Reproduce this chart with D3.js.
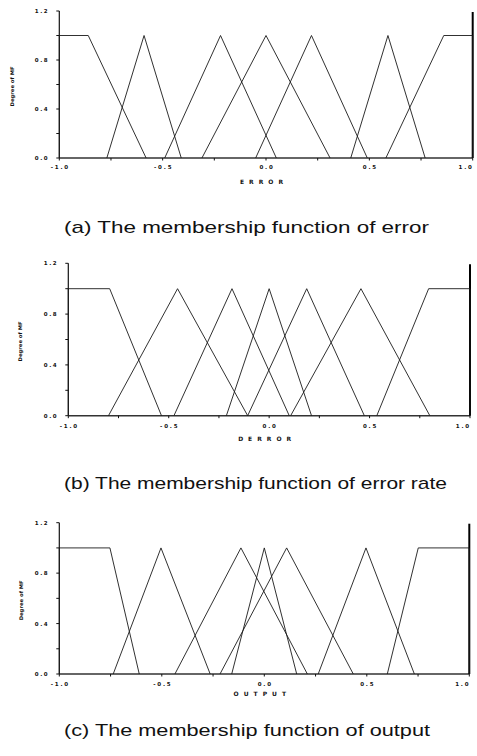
<!DOCTYPE html>
<html>
<head>
<meta charset="utf-8">
<script src="https://cdn.jsdelivr.net/npm/d3@7"></script>
<style>
  html, body { margin: 0; padding: 0; background: #fff; }
  svg { display: block; }
</style>
</head>
<body>
<svg id="fig" width="477" height="756"></svg>
<script>
// Linguistic terms shared by all three variables
const terms = ["NB", "NM", "NS", "ZE", "PS", "PM", "PB"];

// Breakpoints of each membership function: trapezoids [a,b,c,d], triangles [a,b,c]
const errorMF = [
  [-1, -1, -0.86, -0.58],
  [-0.77, -0.59, -0.41],
  [-0.49, -0.22, 0.05],
  [-0.31, 0, 0.31],
  [-0.05, 0.22, 0.49],
  [0.41, 0.59, 0.77],
  [0.58, 0.86, 1, 1]
];
const derrorMF = [
  [-1, -1, -0.794, -0.536],
  [-0.80, -0.456, -0.107],
  [-0.474, -0.185, 0.10],
  [-0.213, 0, 0.211],
  [-0.107, 0.187, 0.474],
  [0.107, 0.457, 0.80],
  [0.536, 0.794, 1, 1]
];
const outputMF = [
  [-1, -1, -0.753, -0.61],
  [-0.737, -0.504, -0.264],
  [-0.436, -0.114, 0.21],
  [-0.159, 0, 0.158],
  [-0.216, 0.109, 0.434],
  [0.263, 0.496, 0.732],
  [0.60, 0.751, 1, 1]
];

// Axis ticks
const xTicks = [-1, -0.75, -0.5, -0.25, 0, 0.25, 0.5, 0.75, 1];
const xTickLabels = ["-1.0", "-0.5", "0.0", "0.5", "1.0"];
const xLabelValues = [-1, -0.5, 0, 0.5, 1];
const yTicks = [0, 0.2, 0.4, 0.6, 0.8, 1.0, 1.2];
const yTickLabels = ["0.0", "0.4", "0.8", "1.2"];
const yLabelValues = [0, 0.4, 0.8, 1.2];

const yTitle = "Degree of MF";
const xTitles = ["ERROR", "DERROR", "OUTPUT"];
const captions = [
  "(a) The membership function of error",
  "(b) The membership function of error rate",
  "(c) The membership function of output"
];

// Panel frames (plot-area bounds in pixels)
const panels = [
  { mf: errorMF,  x0: 59.3, x1: 472.7, yTop: 11,    yBot: 158,   yTitleX: 14,   xlabY: 169,   xTitleY: 183.5, capY: 233,   capW: 365 },
  { mf: derrorMF, x0: 68.3, x1: 470,   yTop: 263.3, yBot: 415.7, yTitleX: 21.5, xlabY: 427.5, xTitleY: 441,   capY: 489,   capW: 383 },
  { mf: outputMF, x0: 59.3, x1: 469.3, yTop: 522.7, yBot: 674,   yTitleX: 23,   xlabY: 686,   xTitleY: 696,   capY: 735.5, capW: 366 }
];

const svg = d3.select("#fig");
const tickFont = "'DejaVu Sans', sans-serif";

function shape(bp) {
  if (bp.length === 4) return [[bp[0], 0], [bp[1], 1], [bp[2], 1], [bp[3], 0]];
  return [[bp[0], 0], [bp[1], 1], [bp[2], 0]];
}

panels.forEach((p, i) => {
  const x = d3.scaleLinear().domain([-1, 1]).range([p.x0, p.x1]);
  const y = d3.scaleLinear().domain([0, 1.2]).range([p.yBot, p.yTop]);
  const g = svg.append("g");

  // baseline
  g.append("line")
    .attr("x1", x(-1)).attr("x2", x(1))
    .attr("y1", y(0)).attr("y2", y(0))
    .attr("stroke", "#333").attr("stroke-width", 1.6);

  // left axis
  g.append("line")
    .attr("x1", x(-1)).attr("x2", x(-1))
    .attr("y1", y(1.2)).attr("y2", y(0))
    .attr("stroke", "#111").attr("stroke-width", 1.2);
  g.selectAll(".ytick").data(yTicks).join("line")
    .attr("x1", x(-1) - 3).attr("x2", x(-1))
    .attr("y1", d => y(d)).attr("y2", d => y(d))
    .attr("stroke", "#111").attr("stroke-width", 1);
  g.selectAll(".ylab").data(yLabelValues).join("text")
    .attr("x", x(-1) - 10).attr("y", d => y(d) + 2)
    .attr("text-anchor", "end")
    .attr("font-family", tickFont).attr("font-weight", "bold")
    .attr("font-size", 5.5).attr("letter-spacing", 1.6)
    .attr("fill", "#111")
    .text((d, k) => yTickLabels[k]);

  // right frame edge
  g.append("line")
    .attr("x1", x(1)).attr("x2", x(1))
    .attr("y1", y(1.2) + 1).attr("y2", y(0))
    .attr("stroke", "#000").attr("stroke-width", 2);

  // x ticks
  g.selectAll(".xtick").data(xTicks).join("line")
    .attr("x1", d => x(d)).attr("x2", d => x(d))
    .attr("y1", y(0)).attr("y2", y(0) + 2.5)
    .attr("stroke", "#111").attr("stroke-width", 1);
  g.selectAll(".xlab").data(xLabelValues).join("text")
    .attr("x", d => d === 1 ? Math.min(x(d) + 1, 474) : x(d) + 1)
    .attr("y", p.xlabY)
    .attr("text-anchor", d => d === 1 ? "end" : "middle")
    .attr("font-family", tickFont).attr("font-weight", "bold")
    .attr("font-size", 5.5).attr("letter-spacing", 1.8)
    .attr("fill", "#111")
    .text((d, k) => xTickLabels[k]);

  // y title
  g.append("text")
    .attr("transform", `translate(${p.yTitleX},${(y(0) + y(1.2)) / 2 + 2}) rotate(-90)`)
    .attr("text-anchor", "middle")
    .attr("font-family", tickFont).attr("font-weight", "bold")
    .attr("font-size", 5).attr("fill", "#111")
    .attr("textLength", 40).attr("lengthAdjust", "spacingAndGlyphs")
    .text(yTitle);

  // x title
  g.append("text")
    .attr("x", (x(-1) + x(1)) / 2 - 2).attr("y", p.xTitleY)
    .attr("text-anchor", "middle")
    .attr("font-family", tickFont).attr("font-weight", "bold")
    .attr("font-size", 6).attr("fill", "#111")
    .attr("letter-spacing", 5)
    .text(xTitles[i]);

  // membership functions
  const line = d3.line().x(d => x(d[0])).y(d => y(d[1]));
  g.selectAll(".mf").data(p.mf).join("path")
    .attr("d", d => line(shape(d)))
    .attr("fill", "none").attr("stroke", "#1a1a1a").attr("stroke-width", 0.9)
    .attr("stroke-linejoin", "miter");

  // caption
  svg.append("text")
    .attr("x", 64).attr("y", p.capY)
    .attr("font-family", "'Liberation Sans Narrow', 'Liberation Sans', Arial, sans-serif")
    .attr("font-size", 17).attr("fill", "#111")
    .attr("textLength", p.capW).attr("lengthAdjust", "spacingAndGlyphs")
    .text(captions[i]);
});
</script>
</body>
</html>
